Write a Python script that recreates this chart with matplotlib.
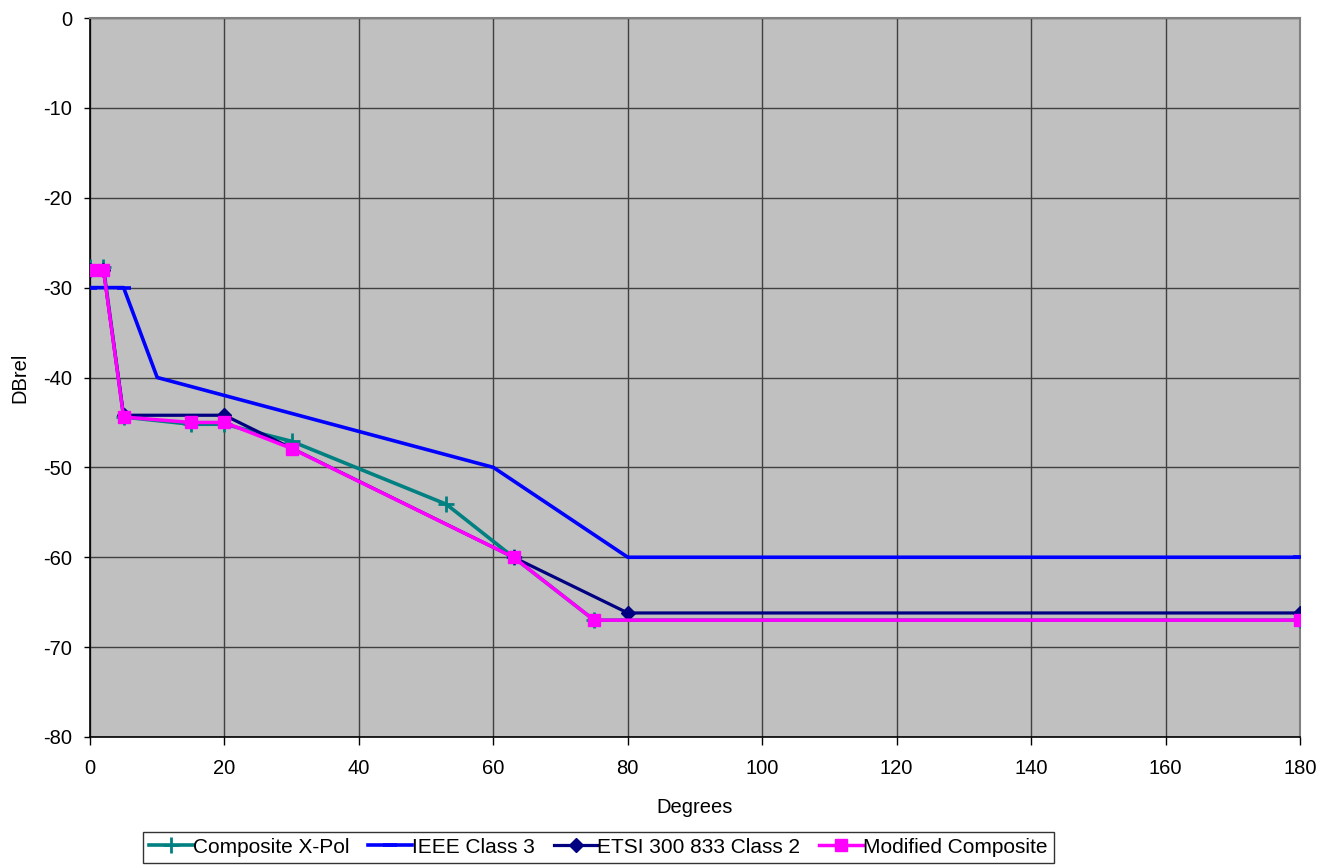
import matplotlib
matplotlib.use("Agg")
import matplotlib.pyplot as plt

plt.rcParams['font.family'] = ['Liberation Sans', 'DejaVu Sans']
plt.rcParams['axes.unicode_minus'] = False

# Series data (degrees, dB relative)
composite_x = [0, 2, 5, 15, 20, 30, 53, 63, 75, 180]
composite_y = [-27.7, -27.7, -44.4, -45.2, -45.2, -47.1, -54.1, -60.0, -67.0, -67.0]

ieee_x = [0, 5, 10, 60, 80, 180]
ieee_y = [-30, -30, -40, -50, -60, -60]

etsi_x = [0, 2, 5, 20, 63, 80, 180]
etsi_y = [-28, -28, -44.2, -44.2, -60, -66.2, -66.2]

modified_x = [0, 2, 5, 15, 20, 30, 63, 75, 180]
modified_y = [-28, -28, -44.4, -45.0, -45.0, -47.9, -60.0, -67.0, -67.0]

x_ticks = list(range(0, 181, 20))
y_ticks = list(range(-80, 1, 10))

fig = plt.figure(figsize=(13.22, 8.65), dpi=100)
ax = fig.add_axes([90 / 1322, 1 - 737 / 865, 1210 / 1322, 719 / 865])
ax.set_facecolor('#C0C0C0')

ax.plot(composite_x, composite_y, color='#008080', lw=2.6, marker='+',
        ms=11, mew=2, label='Composite X-Pol', zorder=3)
ax.plot(ieee_x, ieee_y, color='#0000FF', lw=2.6, marker='_',
        ms=10, mew=2.6, markevery=[0, 1, 5], label='IEEE Class 3', zorder=4)
ax.plot(etsi_x, etsi_y, color='#000080', lw=2.3, marker='D',
        ms=7.5, label='ETSI 300 833 Class 2', zorder=5)
ax.plot(modified_x, modified_y, color='#FF00FF', lw=2.5, marker='s',
        ms=8.5, label='Modified Composite', zorder=6)

ax.set_xlim(0, 180)
ax.set_ylim(-80, 0)
ax.set_xticks(x_ticks)
ax.set_yticks(y_ticks)
ax.grid(True, color='#404040', lw=1.0, zorder=1)
ax.set_axisbelow(True)

for side in ('top', 'right'):
    ax.spines[side].set_color('#808080')
    ax.spines[side].set_linewidth(1.5)
for side in ('left', 'bottom'):
    ax.spines[side].set_color('black')
    ax.spines[side].set_linewidth(1.2)

ax.tick_params(axis='both', direction='out', width=1,
               labelsize=14.5, colors='black')
ax.tick_params(axis='y', length=4, pad=9)
ax.tick_params(axis='x', length=6, pad=10)

ax.set_xlabel('Degrees', fontsize=14.5, labelpad=14)
ax.set_ylabel('DBrel', fontsize=14.5, labelpad=10)

handles, labels = ax.get_legend_handles_labels()
leg = fig.legend(handles, labels, loc='lower left', ncol=4,
                 bbox_to_anchor=(143 / 1322, 2 / 865), fontsize=15,
                 frameon=True, fancybox=False, edgecolor='black',
                 handlelength=2.1, handletextpad=0.0, columnspacing=0.9,
                 borderpad=0.3, borderaxespad=0)
leg.get_frame().set_linewidth(1.0)

fig.savefig('out.png', dpi=100)
